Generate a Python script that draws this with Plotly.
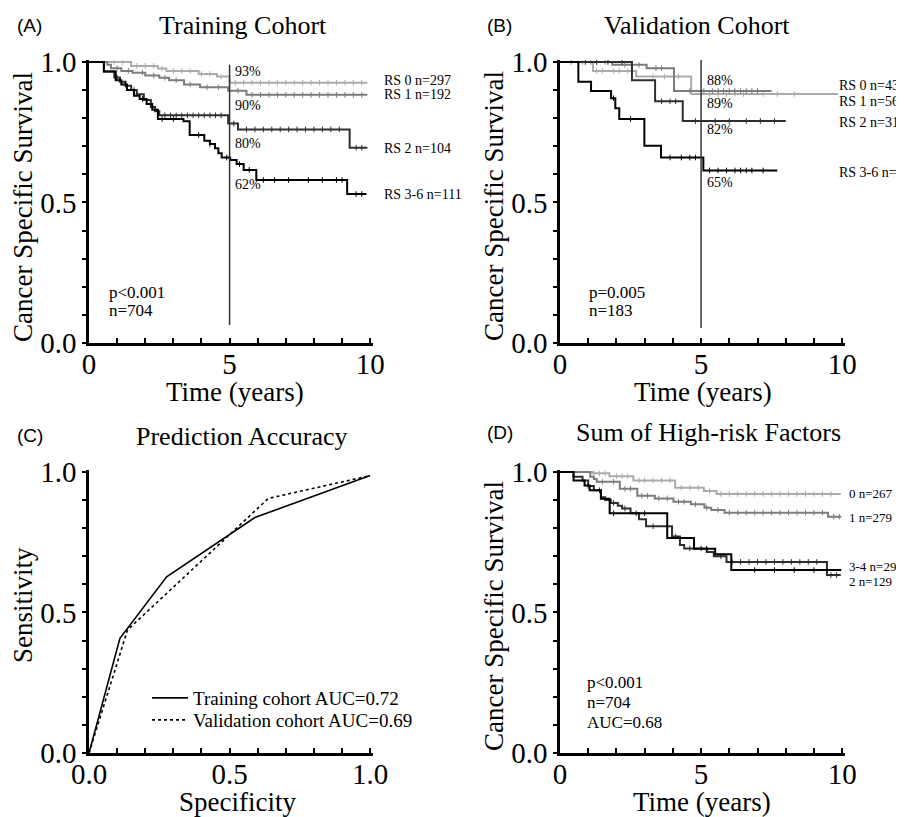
import plotly.graph_objects as go

# the page body has an 8px margin, so the figure is drawn 8px in from the window corner
OFF = 8
W, H = 904 - OFF, 817 - OFF
SERIF = "Liberation Serif"
SANS = "Liberation Sans"

# ---------------- data ----------------
# (A) Training cohort: event times (years), survival after event, last follow-up, censor times
a_labels = ["RS 0 n=297", "RS 1 n=192", "RS 2 n=104", "RS 3-6 n=111"]
a_rs0_t = [1.5, 2.45, 2.75, 3.9, 4.55, 5.0]
a_rs0_s = [0.986, 0.977, 0.968, 0.957, 0.948, 0.926]
a_rs0_end = 9.9
a_rs0_c = [0.9, 1.2, 1.7, 2.0, 2.3, 2.6, 3.0, 3.3, 3.6, 4.0, 4.3, 4.7, 5.2, 5.5, 5.8, 6.1,
           6.4, 6.7, 7.0, 7.3, 7.6, 7.9, 8.2, 8.5, 8.8, 9.1, 9.4, 9.7]
a_rs1_t = [0.65, 0.78, 1.15, 1.55, 2.0, 2.5, 2.85, 3.38, 3.95, 4.95, 5.6]
a_rs1_s = [0.99, 0.978, 0.968, 0.962, 0.952, 0.944, 0.935, 0.92, 0.91, 0.898, 0.883]
a_rs1_end = 9.9
a_rs1_c = [1.0, 1.4, 1.9, 2.3, 2.7, 3.1, 3.6, 4.2, 4.6, 5.3, 5.8, 6.1, 6.4, 6.7, 7.0, 7.3,
           7.6, 7.9, 8.2, 8.5, 8.8, 9.1, 9.4, 9.7]
a_rs2_t = [0.53, 0.9, 1.1, 1.3, 1.5, 1.7, 1.95, 2.2, 2.35, 2.5, 4.95, 5.3, 9.27]
a_rs2_s = [0.966, 0.945, 0.93, 0.915, 0.9, 0.885, 0.865, 0.84, 0.825, 0.81, 0.781, 0.76, 0.695]
a_rs2_end = 9.9
a_rs2_c = [1.0, 1.6, 2.7, 2.9, 3.1, 3.3, 3.5, 3.7, 3.9, 4.1, 4.3, 4.5, 4.7, 5.15, 5.6, 5.9,
           6.2, 6.5, 6.8, 7.1, 7.4, 7.7, 8.0, 8.3, 8.6, 8.9, 9.5, 9.7]
a_rs3_t = [0.53, 0.95, 1.15, 1.35, 1.6, 1.8, 2.05, 2.25, 2.45, 3.36, 3.58, 4.1, 4.3, 4.48,
           4.6, 4.72, 5.02, 5.25, 5.5, 5.95, 9.18]
a_rs3_s = [0.966, 0.935, 0.92, 0.9, 0.88, 0.868, 0.85, 0.83, 0.797, 0.789, 0.74, 0.72, 0.708,
           0.693, 0.675, 0.66, 0.651, 0.637, 0.616, 0.58, 0.53]
a_rs3_end = 9.87
a_rs3_c = [1.3, 1.9, 2.6, 3.0, 3.9, 4.3, 4.9, 5.35, 5.7, 6.2, 6.6, 7.1, 7.8, 8.3, 8.8, 9.0,
           9.5, 9.7]
a_pct = ["93%", "90%", "80%", "62%"]

# (B) Validation cohort
b_labels = ["RS 0 n=43", "RS 1 n=56", "RS 2 n=31", "RS 3-6 n=53"]
b_rs0_t = [1.17, 2.7, 4.65]
b_rs0_s = [0.968, 0.948, 0.886]
b_rs0_end = 9.85
b_rs0_c = [0.8, 1.3, 1.5, 1.9, 2.1, 2.4, 3.3, 3.7, 4.2, 5.3, 5.6, 5.9, 6.2, 6.5, 7.2, 7.7, 8.3]
b_rs1_t = [1.85, 3.07, 4.04]
b_rs1_s = [0.99, 0.978, 0.897]
b_rs1_end = 7.5
b_rs1_c = [0.4, 1.1, 1.6, 2.3, 2.8, 3.4, 3.6, 4.6, 5.1, 5.4, 5.6, 5.8, 6.0, 6.2, 6.4, 6.6,
           6.8, 7.0]
b_rs2_t = [2.55, 3.37, 4.35]
b_rs2_s = [0.935, 0.86, 0.79]
b_rs2_end = 8.0
b_rs2_c = [0.9, 1.3, 1.7, 2.2, 3.6, 3.9, 4.1, 4.8, 5.5, 6.0, 6.6, 7.1, 7.6]
b_rs3_t = [0.65, 1.1, 1.81, 1.96, 2.1, 2.99, 3.58, 5.08]
b_rs3_s = [0.93, 0.897, 0.871, 0.835, 0.797, 0.702, 0.66, 0.614]
b_rs3_end = 7.7
b_rs3_c = [1.9, 2.5, 3.9, 4.3, 4.6, 4.8, 5.3, 5.6, 5.9, 6.2, 6.4, 6.6, 6.8, 7.2]
b_pct = ["88%", "89%", "82%", "65%"]

# (C) ROC curves
c_train_spec = [0.0, 0.11, 0.276, 0.59, 1.0]
c_train_sens = [0.0, 0.408, 0.627, 0.838, 0.987]
c_valid_spec = [0.0, 0.137, 0.638, 1.0]
c_valid_sens = [0.0, 0.438, 0.906, 0.987]
c_names = ["Training cohort AUC=0.72", "Validation cohort AUC=0.69"]

# (D) Sum of high-risk factors
d_labels = ["0 n=267", "1 n=279", "3-4 n=29", "2 n=129"]
d0_t = [1.15, 1.75, 2.6, 4.08, 5.1, 5.55]
d0_s = [0.995, 0.985, 0.97, 0.944, 0.932, 0.922]
d0_end = 9.95
d0_c = [1.2, 1.4, 1.6, 2.0, 2.2, 2.4, 2.8, 3.0, 3.3, 3.6, 3.9, 4.3, 4.6, 4.9, 5.3, 5.7, 6.0,
        6.3, 6.6, 6.9, 7.2, 7.5, 7.8, 8.1, 8.4, 8.7, 9.0, 9.3, 9.6]
d1_t = [1.07, 1.2, 1.3, 2.12, 2.74, 3.36, 4.02, 4.64, 5.12, 5.36, 5.83, 9.5]
d1_s = [0.983, 0.975, 0.965, 0.94, 0.915, 0.906, 0.894, 0.885, 0.873, 0.865, 0.855, 0.841]
d1_end = 9.97
d1_c = [1.5, 1.9, 2.3, 2.5, 2.9, 3.1, 3.5, 3.8, 4.2, 4.4, 4.8, 5.2, 5.6, 6.0, 6.3, 6.6, 6.9,
        7.2, 7.5, 7.8, 8.1, 8.4, 8.7, 9.0, 9.3, 9.7, 9.9]
d2_t = [0.48, 0.8, 1.0, 1.2, 1.45, 1.6, 1.8, 2.05, 2.2, 2.5, 2.8, 3.05, 3.97, 4.25, 4.4, 5.2,
        5.45, 5.9, 9.46]
d2_s = [0.983, 0.97, 0.95, 0.935, 0.91, 0.9, 0.89, 0.88, 0.87, 0.853, 0.832, 0.807, 0.77,
        0.74, 0.728, 0.715, 0.70, 0.68, 0.633]
d2_end = 9.95
d2_c = [1.0, 1.4, 1.9, 2.3, 2.7, 3.3, 4.1, 4.6, 5.0, 5.7, 6.1, 6.4, 6.7, 7.0, 7.3, 7.6, 7.9,
        8.2, 8.5, 8.8, 9.1, 9.6, 9.8]
d34_t = [0.48, 0.87, 1.05, 1.45, 1.76, 3.8, 4.75, 5.5, 6.07]
d34_s = [0.97, 0.952, 0.935, 0.905, 0.853, 0.765, 0.727, 0.707, 0.651]
d34_end = 9.97
d34_c = [1.9, 3.0, 5.2, 6.9, 7.6, 8.3, 9.0]

LIGHT, MID, DARK, BLACK = "#ababab", "#7c7c7c", "#2e2e2e", "#000000"


def px(x, y):
    """window pixel -> paper coordinate"""
    return (x - OFF) / W, 1 - (y - OFF) / H


def km_xy(t, s, end):
    return [0.0] + list(t) + [end], [1.0] + list(s) + [s[-1]]


def surv_at(t, s, c):
    v = 1.0
    for ti, si in zip(t, s):
        if ti <= c:
            v = si
    return v


fig = go.Figure()


def add_km(t, s, end, cens, color, xa, ya):
    x, y = km_xy(t, s, end)
    fig.add_trace(go.Scatter(x=x, y=y, mode="lines", line=dict(color=color, width=2, shape="hv"),
                             xaxis=xa, yaxis=ya, showlegend=False, hoverinfo="skip"))
    fig.add_trace(go.Scatter(x=cens, y=[surv_at(t, s, c) for c in cens], mode="markers",
                             marker=dict(symbol="line-ns", size=4, color=color,
                                         line=dict(width=1, color=color)),
                             xaxis=xa, yaxis=ya, showlegend=False, hoverinfo="skip"))


add_km(a_rs0_t, a_rs0_s, a_rs0_end, a_rs0_c, LIGHT, "x", "y")
add_km(a_rs1_t, a_rs1_s, a_rs1_end, a_rs1_c, MID, "x", "y")
add_km(a_rs2_t, a_rs2_s, a_rs2_end, a_rs2_c, DARK, "x", "y")
add_km(a_rs3_t, a_rs3_s, a_rs3_end, a_rs3_c, BLACK, "x", "y")

add_km(b_rs0_t, b_rs0_s, b_rs0_end, b_rs0_c, LIGHT, "x2", "y2")
add_km(b_rs1_t, b_rs1_s, b_rs1_end, b_rs1_c, MID, "x2", "y2")
add_km(b_rs2_t, b_rs2_s, b_rs2_end, b_rs2_c, DARK, "x2", "y2")
add_km(b_rs3_t, b_rs3_s, b_rs3_end, b_rs3_c, BLACK, "x2", "y2")

fig.add_trace(go.Scatter(x=c_train_spec, y=c_train_sens, mode="lines", name=c_names[0],
                         line=dict(color="black", width=1.6), xaxis="x3", yaxis="y3",
                         legend="legend"))
fig.add_trace(go.Scatter(x=c_valid_spec, y=c_valid_sens, mode="lines", name=c_names[1],
                         line=dict(color="black", width=1.6, dash="dot"), xaxis="x3", yaxis="y3",
                         legend="legend2"))

add_km(d0_t, d0_s, d0_end, d0_c, LIGHT, "x4", "y4")
add_km(d1_t, d1_s, d1_end, d1_c, MID, "x4", "y4")
add_km(d2_t, d2_s, d2_end, d2_c, DARK, "x4", "y4")
add_km(d34_t, d34_s, d34_end, d34_c, BLACK, "x4", "y4")

# 5-year reference lines
fig.add_shape(type="line", xref="x", yref="y", x0=5, x1=5, y0=0.064, y1=0.99,
              line=dict(color="#333333", width=1.5))
fig.add_shape(type="line", xref="x2", yref="y2", x0=5, x1=5, y0=0.053, y1=1.01,
              line=dict(color="#333333", width=1.5))

tickfont = dict(family=SERIF, size=29, color="black")


def xax(dom, rng, dtick, minor, fmt):
    return dict(domain=dom, range=rng, dtick=dtick, tick0=0, tickformat=fmt, ticks="inside",
                ticklen=5, tickwidth=2, tickcolor="black", showline=True, linewidth=2.5,
                linecolor="black", showgrid=False, zeroline=False, tickfont=tickfont,
                automargin=False, ticklabelstandoff=-7,
                minor=dict(dtick=minor, tick0=0, ticks="inside", ticklen=5, tickwidth=2,
                           tickcolor="black", showgrid=False))


def yax(dom, anchor):
    return dict(domain=dom, range=[0, 1.007], dtick=0.5, tick0=0, tickformat=".1f",
                ticks="outside", ticklen=4, tickwidth=2, tickcolor="black", showline=True,
                linewidth=2.5, linecolor="black", showgrid=False, zeroline=False,
                tickfont=tickfont, anchor=anchor, automargin=False,
                minor=dict(dtick=0.1, tick0=0, ticks="outside", ticklen=4, tickwidth=2,
                           tickcolor="black", showgrid=False))


def xdom(a, b):
    return [(a - OFF) / W, (b - OFF) / W]


def ydom(bottom, top):
    return [1 - (bottom - OFF) / H, 1 - (top - OFF) / H]


top_dom = ydom(343, 60)
bot_dom = ydom(753, 470)
left_dom = xdom(89, 373)
right_dom = xdom(560, 845)

legfont = dict(family=SERIF, size=19, color="black")
lx, ly1 = px(147, 698)
_, ly2 = px(147, 720)

fig.update_layout(
    template="none",
    width=W, height=H, margin=dict(l=0, r=0, t=0, b=0, autoexpand=False),
    paper_bgcolor="white", plot_bgcolor="white",
    xaxis=dict(xax(left_dom, [0, 10.1], 5, 1, "d"), anchor="y"),
    yaxis=yax(top_dom, "x"),
    xaxis2=dict(xax(right_dom, [0, 10.1], 5, 1, "d"), anchor="y2"),
    yaxis2=yax(top_dom, "x2"),
    xaxis3=dict(xax(left_dom, [0, 1.01], 0.5, 0.1, ".1f"), anchor="y3"),
    yaxis3=yax(bot_dom, "x3"),
    xaxis4=dict(xax(right_dom, [0, 10.1], 5, 1, "d"), anchor="y4"),
    yaxis4=yax(bot_dom, "x4"),
    showlegend=True,
    legend=dict(x=lx, y=ly1, xanchor="left", yanchor="middle", font=legfont,
                bgcolor="rgba(0,0,0,0)", itemwidth=36),
    legend2=dict(x=lx, y=ly2, xanchor="left", yanchor="middle", font=legfont,
                 bgcolor="rgba(0,0,0,0)", itemwidth=36),
)

ann = []


def text(s, x, y, size, xanchor="left", family=SERIF, angle=0):
    X, Y = px(x, y)
    ann.append(dict(text=s, x=X, y=Y, xref="paper", yref="paper", showarrow=False,
                    xanchor=xanchor, yanchor="middle", textangle=angle,
                    font=dict(family=family, size=size, color="black")))


# panel letters and titles
text("(A)", 15, 25, 19, family=SANS)
text("(B)", 485, 25, 19, family=SANS)
text("(C)", 15, 435, 19, family=SANS)
text("(D)", 485, 432, 19, family=SANS)
text("Training Cohort", 243, 25, 26, "center")
text("Validation Cohort", 697, 25, 26, "center")
text("Prediction Accuracy", 242, 436, 26, "center")
text("Sum of High-risk Factors", 708, 432, 26, "center")

# axis titles
text("Time (years)", 235, 392, 27, "center")
text("Time (years)", 703, 392, 27, "center")
text("Specificity", 237, 802, 27, "center")
text("Time (years)", 702, 802, 27, "center")
text("Cancer Specific Survival", 23, 207, 27, "center", angle=-90)
text("Cancer Specific Survival", 494, 206, 27, "center", angle=-90)
text("Sensitivity", 23, 605, 27, "center", angle=-90)
text("Cancer Specific Survival", 494, 616, 27, "center", angle=-90)

# group labels
for s, y in zip(a_labels, [80, 95, 148, 194]):
    text(s, 382, y, 14)
for s, y in zip(b_labels, [85, 102, 123, 173]):
    text(s, 837, y, 14)
for s, y in zip(d_labels, [493, 517, 566, 581]):
    text(s, 847, y, 13)
for s, y in zip(a_pct, [72, 105, 143, 184]):
    text(s, 233, y, 14)
for s, y in zip(b_pct, [80, 103, 130, 183]):
    text(s, 705, y, 14)

# statistics
text("p<0.001", 107, 293, 17)
text("n=704", 107, 310, 17)
text("p=0.005", 587, 293, 17)
text("n=183", 587, 310, 17)
text("p<0.001", 585, 682, 17)
text("n=704", 585, 702, 17)
text("AUC=0.68", 585, 722, 17)

fig.update_layout(annotations=ann)
fig.write_html("out.html")
